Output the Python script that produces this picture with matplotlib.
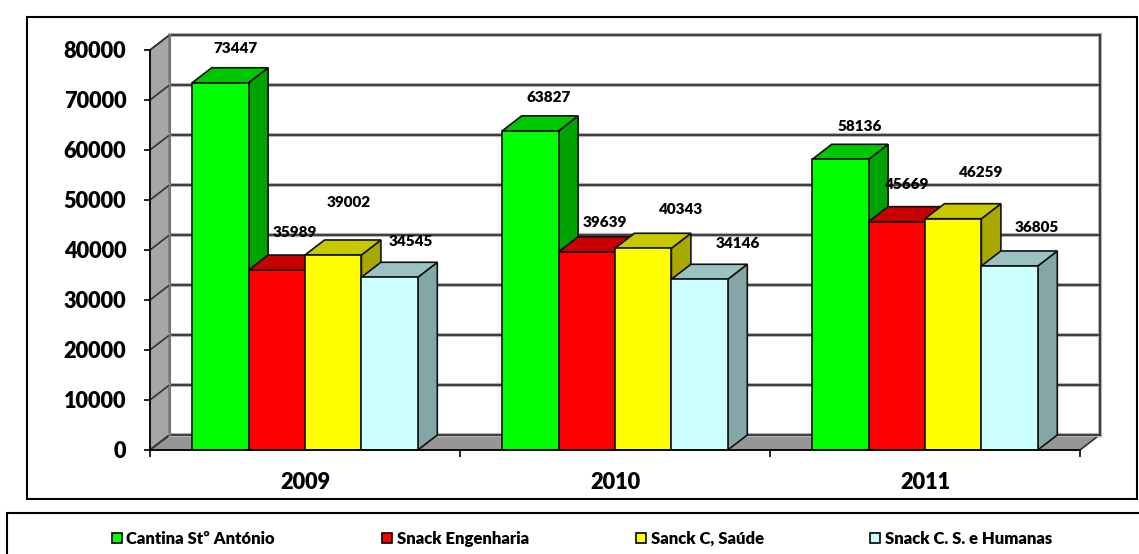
import matplotlib
matplotlib.use("Agg")
from matplotlib import pyplot as plt
from matplotlib.patches import Patch, Polygon, Rectangle

years = ["2009", "2010", "2011"]
series_names = ["Cantina Stº António", "Snack Engenharia", "Sanck C, Saúde", "Snack C. S. e Humanas"]
cantina = [73447, 63827, 58136]
engenharia = [35989, 39639, 45669]
saude = [39002, 40343, 46259]
humanas = [34545, 34146, 36805]
y_ticks = [0, 10000, 20000, 30000, 40000, 50000, 60000, 70000, 80000]

#front, top, side colours for each series
front_colors = ["#00ff00", "#ff0000", "#ffff00", "#ccffff"]
top_colors = ["#00c800", "#c80000", "#c8c800", "#99c2c0"]
side_colors = ["#00a400", "#a00000", "#a8a800", "#84a6a6"]

#hand placed label shifts from the top centre of each bar, in pixels
label_dx = [[15, 18, 16, 21], [18, 18, 38, 38], [19, 10, 28, 27]]
label_dy = [[34, 38, 52, 36], [33, 29, 39, 36], [33, 37, 46, 38]]

plt.rcParams["font.family"] = ["Lato", "DejaVu Sans"]
plt.rcParams["font.weight"] = "heavy"

W, H = 1139, 554
fig = plt.figure(figsize=(W / 100, H / 100), dpi=100)
ax = fig.add_axes([150 / W, 1 - 450 / H, 930 / W, 400 / H])
ax.set_xlim(0, 3)
ax.set_ylim(0, 80000)

#depth of the fake 3d box in data units
dx = 19.5 / 310
dy = 3000
bar_w = 56.4 / 310
edge = "#111111"

#outer frames
fig.add_artist(Rectangle((27 / W, 1 - 499 / H), 1110 / W, 482 / H, transform=fig.transFigure,
                         fill=False, ec="black", lw=1.5))
fig.add_artist(Rectangle((7 / W, 1 - 570 / H), 1160 / W, 57 / H, transform=fig.transFigure,
                         fill=False, ec="black", lw=1.5))

#walls and floor
ax.add_patch(Polygon([(0, 0), (dx, dy), (dx, 80000 + dy), (0, 80000)], fc="#a6a6a6", ec="#444444",
                     lw=1.2, clip_on=False, zorder=1))
ax.add_patch(Polygon([(0, 0), (3, 0), (3 + dx, dy), (dx, dy)], fc="#969696", ec="#333333",
                     lw=1.2, clip_on=False, zorder=1))
for t in y_ticks:
    ax.plot([dx, 3 + dx], [t + dy, t + dy], color="#b4b4b4", lw=3, clip_on=False, zorder=1.1)
    ax.plot([dx, 3 + dx], [t + dy, t + dy], color="#333333", lw=1.3, clip_on=False, zorder=1.2)
    ax.plot([0, dx], [t, t + dy], color="#333333", lw=1.2, clip_on=False, zorder=1.2)
ax.plot([3 + dx, 3 + dx], [dy, 80000 + dy], color="#b4b4b4", lw=3, clip_on=False, zorder=1.1)
ax.plot([3 + dx, 3 + dx], [dy, 80000 + dy], color="#333333", lw=1.3, clip_on=False, zorder=1.2)
ax.plot([dx, dx], [dy, 80000 + dy], color="#777777", lw=1.5, clip_on=False, zorder=1.2)

#bars, left to right so the next bar covers the side of the one before
all_series = [cantina, engenharia, saude, humanas]
z = 2
for g in range(len(years)):
    for s in range(len(all_series)):
        v = all_series[s][g]
        left = g + 0.5 + (s - 2) * bar_w
        right = left + bar_w
        ax.add_patch(Polygon([(right, 0), (right + dx, dy), (right + dx, v + dy), (right, v)],
                             fc=side_colors[s], ec=edge, lw=1.2, clip_on=False, zorder=z))
        ax.add_patch(Polygon([(left, v), (right, v), (right + dx, v + dy), (left + dx, v + dy)],
                             fc=top_colors[s], ec=edge, lw=1.2, clip_on=False, zorder=z))
        ax.bar(left, v, bar_w, align="edge", color=front_colors[s], edgecolor=edge, lw=1.2, zorder=z + 0.5)
        ax.annotate(str(v), (left + bar_w / 2, v), xytext=(label_dx[g][s], label_dy[g][s]),
                    textcoords="offset pixels", ha="center", va="center", fontsize=11,
                    fontweight="heavy", color="black", zorder=50)
        z += 1

ax.spines["top"].set_visible(False)
ax.spines["right"].set_visible(False)
ax.spines["left"].set_linewidth(1.2)
ax.spines["bottom"].set_linewidth(1.2)
ax.spines["left"].set_zorder(30)
ax.spines["bottom"].set_zorder(30)

ax.set_yticks(y_ticks)
ax.set_yticklabels([str(t) for t in y_ticks], fontsize=15.7, fontweight="heavy")
ax.tick_params(axis="y", length=4, width=1.2, pad=13)
ax.set_xticks([0, 1, 2, 3])
ax.set_xticklabels([])
ax.tick_params(axis="x", which="major", length=5, width=1.2)
ax.set_xticks([0.5, 1.5, 2.5], minor=True)
ax.set_xticklabels(years, minor=True, fontsize=15.7, fontweight="heavy")
ax.tick_params(axis="x", which="minor", length=0, pad=16)

handles = [Patch(fc=c, ec="black", lw=1.2) for c in front_colors]
fig.legend(handles, series_names, loc="center", bbox_to_anchor=(582 / W, 1 - 539 / H), ncol=4,
           frameon=False, prop={"size": 12, "weight": "heavy"}, columnspacing=6.4, handlelength=0.6,
           handleheight=0.6, handletextpad=0.3, borderpad=0, borderaxespad=0)

fig.savefig("out.png", dpi=100)
